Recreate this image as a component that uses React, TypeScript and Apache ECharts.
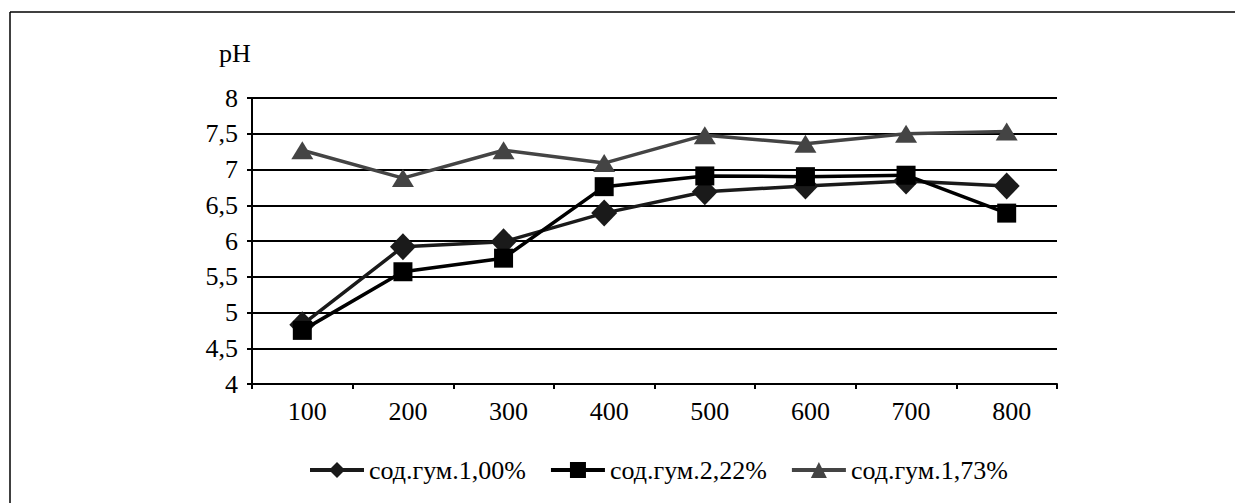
import React, { useEffect, useRef } from "react";
import * as echarts from "echarts";

const categories = ["100", "200", "300", "400", "500", "600", "700", "800"];
const seriesNames = ["сод.гум.1,00%", "сод.гум.2,22%", "сод.гум.1,73%"];
const humus100 = [4.83, 5.92, 5.99, 6.39, 6.69, 6.77, 6.84, 6.77];
const humus222 = [4.75, 5.57, 5.76, 6.76, 6.91, 6.9, 6.92, 6.39];
const humus173 = [7.27, 6.88, 7.27, 7.09, 7.48, 7.36, 7.5, 7.53];
const yAxisName = "pH";

const FONT = "'Liberation Serif', 'Times New Roman', serif";
const FS = 26;

export default function App() {
  const ref = useRef<HTMLDivElement>(null);
  useEffect(() => {
    if (!ref.current) return;
    const chart = echarts.init(ref.current, undefined, { renderer: "svg" });
    chart.setOption({
      animation: false,
      backgroundColor: "#ffffff",
      textStyle: { fontFamily: FONT },
      grid: { left: 244, top: 90, width: 805, height: 286 },
      graphic: [
        {
          type: "line",
          shape: { x1: 2, y1: 4, x2: 1240, y2: 4 },
          style: { stroke: "#000", lineWidth: 1.5 },
          silent: true,
        },
        {
          type: "line",
          shape: { x1: 2, y1: 4, x2: 2, y2: 500 },
          style: { stroke: "#000", lineWidth: 1.5 },
          silent: true,
        },
        {
          type: "text",
          x: 227,
          y: 45,
          style: {
            text: yAxisName,
            fontFamily: FONT,
            fontSize: FS,
            fill: "#000",
            align: "center",
            verticalAlign: "middle",
          },
        },
      ],
      legend: {
        left: 295,
        top: 444,
        itemWidth: 54,
        itemHeight: 20,
        itemGap: 23,
        lineStyle: { width: 4 },
        textStyle: { fontFamily: FONT, fontSize: FS, color: "#000" },
        data: seriesNames,
      },
      xAxis: {
        type: "category",
        data: categories,
        boundaryGap: true,
        axisLine: { lineStyle: { color: "#000", width: 2 } },
        axisTick: { show: true, length: 5, lineStyle: { color: "#000", width: 2 } },
        axisLabel: {
          color: "#000",
          fontFamily: FONT,
          fontSize: FS,
          margin: 14,
          padding: [0, 0, 0, 10],
        },
        splitLine: { show: false },
      },
      yAxis: {
        type: "value",
        min: 4,
        max: 8,
        interval: 0.5,
        axisLine: { show: true, lineStyle: { color: "#000", width: 2 } },
        axisTick: { show: true, length: 5, lineStyle: { color: "#000", width: 2 } },
        axisLabel: {
          color: "#000",
          fontFamily: FONT,
          fontSize: FS,
          margin: 14,
          formatter: (v: number) => String(v).replace(".", ","),
        },
        splitLine: { show: true, lineStyle: { color: "#000", width: 2 } },
      },
      series: [
        {
          name: seriesNames[0],
          type: "line",
          data: humus100,
          symbol: "diamond",
          symbolSize: [26, 27],
          lineStyle: { color: "#1a1a1a", width: 3.5 },
          itemStyle: { color: "#1a1a1a" },
          z: 3,
        },
        {
          name: seriesNames[1],
          type: "line",
          data: humus222,
          symbol: "rect",
          symbolSize: 19,
          lineStyle: { color: "#000", width: 3.5 },
          itemStyle: { color: "#000" },
          z: 4,
        },
        {
          name: seriesNames[2],
          type: "line",
          data: humus173,
          symbol: "triangle",
          symbolSize: [22, 18],
          lineStyle: { color: "#444444", width: 3.5 },
          itemStyle: { color: "#444444" },
          z: 2,
        },
      ],
    });
    return () => chart.dispose();
  }, []);
  return <div ref={ref} style={{ width: 1235, height: 495 }} />;
}
